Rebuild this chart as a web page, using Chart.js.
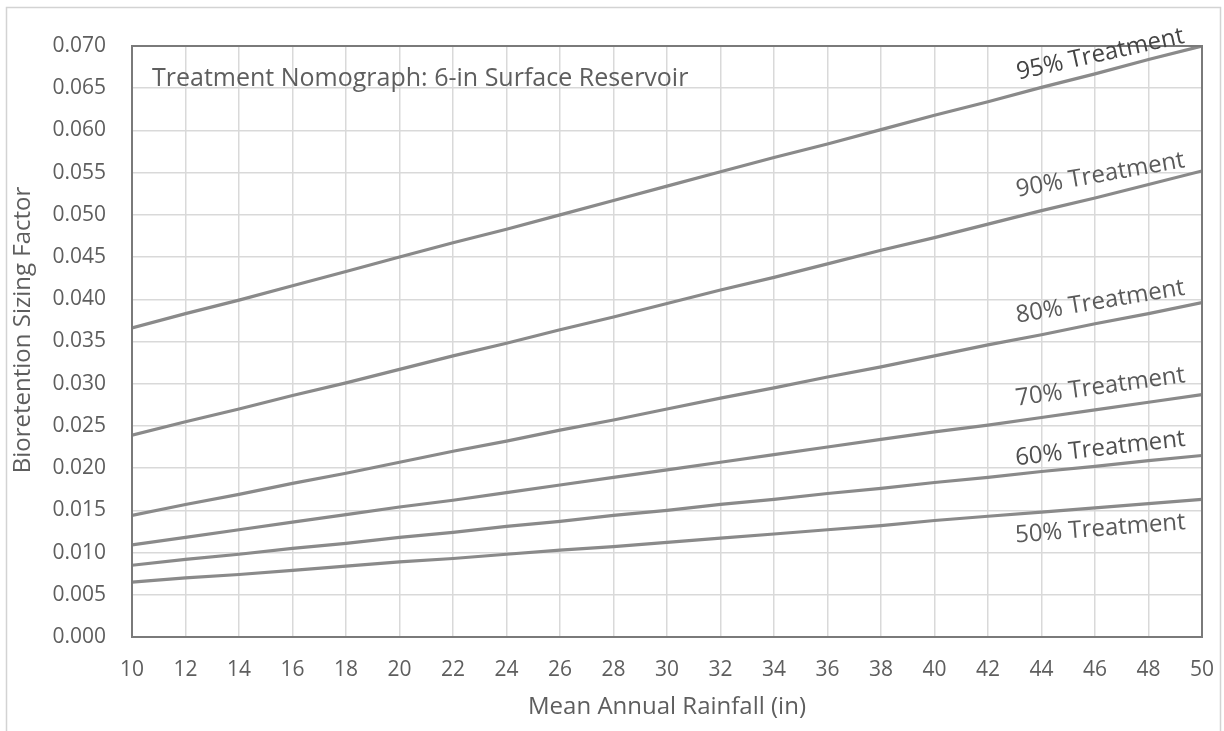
<!DOCTYPE html>
<html>
<head>
<meta charset="utf-8">
<script src="https://cdn.jsdelivr.net/npm/chart.js@4.4.1/dist/chart.umd.min.js"></script>
<style>
  html, body { margin: 0; padding: 0; background: #fff; }
  #wrap { width: 1224px; height: 731px; position: relative; }
</style>
</head>
<body>
<div id="wrap"><canvas id="nomograph"></canvas></div>
<script>
// mean annual rainfall (in)
let rainfall = [10, 12, 14, 16, 18, 20, 22, 24, 26, 28, 30, 32, 34, 36, 38, 40, 42, 44, 46, 48, 50];

// bioretention sizing factor
let treat95 = [0.0366, 0.0383, 0.0399, 0.0416, 0.0433, 0.0450, 0.0467, 0.0483, 0.0500, 0.0517, 0.0534,
               0.0551, 0.0568, 0.0584, 0.0601, 0.0618, 0.0634, 0.0651, 0.0667, 0.0684, 0.0700];
let treat90 = [0.0239, 0.0255, 0.0270, 0.0286, 0.0301, 0.0317, 0.0333, 0.0348, 0.0364, 0.0379, 0.0395,
               0.0411, 0.0426, 0.0442, 0.0458, 0.0473, 0.0489, 0.0505, 0.0520, 0.0536, 0.0552];
let treat80 = [0.0144, 0.0157, 0.0169, 0.0182, 0.0194, 0.0207, 0.0220, 0.0232, 0.0245, 0.0257, 0.0270,
               0.0283, 0.0295, 0.0308, 0.0320, 0.0333, 0.0346, 0.0358, 0.0371, 0.0383, 0.0396];
let treat70 = [0.0109, 0.0118, 0.0127, 0.0136, 0.0145, 0.0154, 0.0162, 0.0171, 0.0180, 0.0189, 0.0198,
               0.0207, 0.0216, 0.0225, 0.0234, 0.0243, 0.0251, 0.0260, 0.0269, 0.0278, 0.0287];
let treat60 = [0.0085, 0.0092, 0.0098, 0.0105, 0.0111, 0.0118, 0.0124, 0.0131, 0.0137, 0.0144, 0.0150,
               0.0157, 0.0163, 0.0170, 0.0176, 0.0183, 0.0189, 0.0196, 0.0202, 0.0209, 0.0215];
let treat50 = [0.0065, 0.0070, 0.0074, 0.0079, 0.0084, 0.0089, 0.0093, 0.0098, 0.0103, 0.0107, 0.0112,
               0.0117, 0.0122, 0.0127, 0.0132, 0.0138, 0.0143, 0.0148, 0.0153, 0.0158, 0.0163];

let seriesNames = ['95% Treatment', '90% Treatment', '80% Treatment', '70% Treatment', '60% Treatment', '50% Treatment'];
let seriesValues = [treat95, treat90, treat80, treat70, treat60, treat50];

let xTicks = [10, 12, 14, 16, 18, 20, 22, 24, 26, 28, 30, 32, 34, 36, 38, 40, 42, 44, 46, 48, 50];
let yTicks = [0, 0.005, 0.010, 0.015, 0.020, 0.025, 0.030, 0.035, 0.040, 0.045, 0.050, 0.055, 0.060, 0.065, 0.070];

let chartTitle = 'Treatment Nomograph: 6-in Surface Reservoir';
let xTitle = 'Mean Annual Rainfall (in)';
let yTitle = 'Bioretention Sizing Factor';

// where each curve's name sits (data units) and how much it is tilted
let labelSpots = [
  { x: 46.2, y: 0.0690, angle: -12.5, color: '#444' },
  { x: 46.2, y: 0.0547, angle: -10, color: '#5a5a5a' },
  { x: 46.2, y: 0.0397, angle: -9.5, color: '#5a5a5a' },
  { x: 46.2, y: 0.0296, angle: -8, color: '#5a5a5a' },
  { x: 46.2, y: 0.0223, angle: -6.5, color: '#4f4f4f' },
  { x: 46.2, y: 0.0128, angle: -4.5, color: '#5a5a5a' }
];

const FONT = '"Open Sans", "Noto Sans", sans-serif';
const TEXT = '#5e5e5e';
const LINE = '#8a8a8a';

let decorations = {
  id: 'decorations',
  beforeDraw(chart) {
    let ctx = chart.ctx;
    ctx.save();
    ctx.strokeStyle = '#d3d3d3';
    ctx.lineWidth = 1.5;
    ctx.strokeRect(6.5, 7.5, 1214, 730);
    ctx.restore();
  },
  afterDatasetsDraw(chart) {
    let ctx = chart.ctx, a = chart.chartArea;
    let xs = chart.scales.x, ys = chart.scales.y;
    ctx.save();
    ctx.strokeStyle = '#7a7a7a';
    ctx.lineWidth = 2;
    ctx.strokeRect(a.left, a.top, a.right - a.left, a.bottom - a.top);

    ctx.fillStyle = TEXT;
    ctx.font = '25px ' + FONT;
    ctx.textAlign = 'left';
    ctx.textBaseline = 'middle';
    ctx.fillText(chartTitle, a.left + 20, a.top + 33);

    // y axis title, rotated
    ctx.save();
    ctx.font = '24px ' + FONT;
    ctx.textAlign = 'center';
    ctx.translate(23, 330);
    ctx.rotate(-Math.PI / 2);
    ctx.fillText(yTitle, 0, 0);
    ctx.restore();

    ctx.font = '24px ' + FONT;
    ctx.textAlign = 'center';
    seriesNames.forEach((name, i) => {
      let s = labelSpots[i];
      ctx.save();
      ctx.fillStyle = s.color;
      ctx.translate(xs.getPixelForValue(s.x), ys.getPixelForValue(s.y));
      ctx.rotate(s.angle * Math.PI / 180);
      ctx.fillText(name, 0, 0);
      ctx.restore();
    });
    ctx.restore();
  }
};

new Chart(document.getElementById('nomograph'), {
  type: 'line',
  data: {
    labels: rainfall,
    datasets: seriesValues.map((vals, i) => ({
      label: seriesNames[i],
      data: vals.map((v, j) => ({ x: rainfall[j], y: v })),
      borderColor: LINE,
      borderWidth: 3.2,
      pointRadius: 0,
      tension: 0,
      fill: false
    }))
  },
  options: {
    responsive: true,
    maintainAspectRatio: false,
    animation: false,
    layout: { padding: { left: 0, top: 46, right: 22, bottom: 0 } },
    plugins: {
      legend: { display: false },
      title: { display: false },
      tooltip: { enabled: false }
    },
    scales: {
      x: {
        type: 'linear',
        min: 10,
        max: 50,
        afterBuildTicks: (scale) => { scale.ticks = xTicks.map(v => ({ value: v })); },
        afterFit: (scale) => {
          scale.height = 94;
          scale.paddingLeft = 0;
          scale.paddingRight = 12;
        },
        grid: { color: '#d9d9d9', lineWidth: 1.5, drawTicks: false },
        border: { display: false },
        ticks: {
          color: TEXT,
          padding: 20,
          maxRotation: 0,
          autoSkip: false,
          font: { family: FONT, size: 21 }
        },
        title: {
          display: true,
          text: xTitle,
          color: TEXT,
          padding: { top: 0, bottom: 9 },
          font: { family: FONT, size: 24 }
        }
      },
      y: {
        min: 0,
        max: 0.07,
        afterBuildTicks: (scale) => { scale.ticks = yTicks.map(v => ({ value: v })); },
        afterFit: (scale) => { scale.width = 132; },
        grid: { color: '#d9d9d9', lineWidth: 1.5, drawTicks: false },
        border: { display: false },
        ticks: {
          color: TEXT,
          padding: 26,
          autoSkip: false,
          font: { family: FONT, size: 21 },
          callback: (v) => Number(v).toFixed(3)
        },
        title: { display: false }
      }
    }
  },
  plugins: [decorations]
});
</script>
</body>
</html>
